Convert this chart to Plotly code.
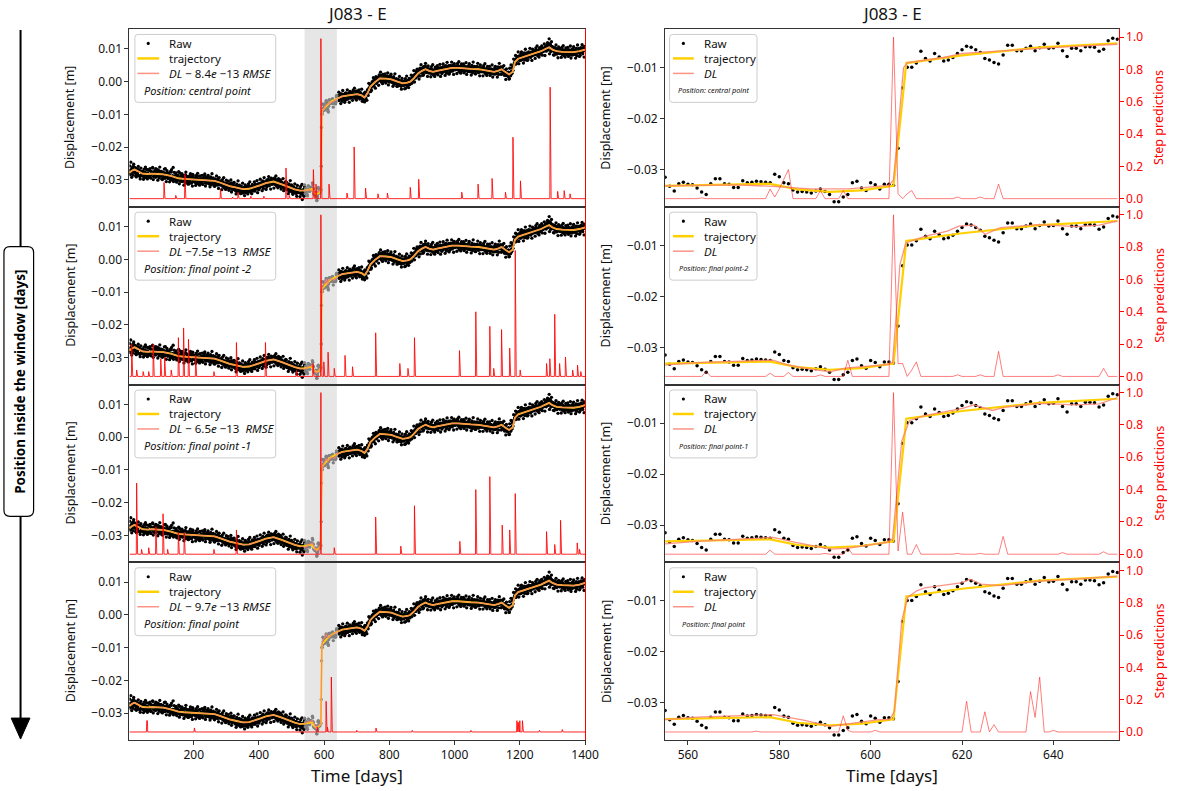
import plotly.graph_objects as go

W, H = 1192, 791

# ---------------- data (displacements in mm, converted to m when plotted) ----------------
# Left panels: full time series (left time axis), even/odd days
raw_a_days = list(range(3, 542, 2))
raw_a = [
    -27.1, -28.4, -24.6, -27.9, -26.3, -27.5, -25.9, -27.6, -26.2, -27.8,
    -26.5, -28.3, -27.0, -28.6, -26.9, -27.2, -29.0, -27.4, -28.7, -27.6,
    -27.3, -28.9, -28.0, -29.3, -27.6, -28.4, -26.8, -28.8, -27.9, -29.1,
    -28.5, -27.2, -28.6, -29.4, -27.7, -28.0, -26.4, -28.9, -27.5, -28.3,
    -29.2, -27.8, -28.4, -26.9, -28.7, -27.3, -29.0, -28.1, -27.4, -28.8,
    -27.6, -28.9, -29.5, -27.9, -28.4, -26.6, -29.1, -28.2, -27.8, -29.6,
    -28.1, -29.3, -28.6, -30.0, -27.6, -29.2, -28.8, -26.2, -29.7, -28.9,
    -29.8, -28.4, -30.3, -29.0, -28.6, -30.1, -29.3, -27.9, -30.4, -29.5,
    -28.9, -30.5, -29.4, -28.7, -30.2, -29.9, -28.5, -30.6, -29.1, -29.8,
    -30.7, -29.2, -28.8, -30.4, -29.6, -31.0, -29.0, -28.3, -30.3, -29.7,
    -29.4, -30.8, -30.1, -29.2, -31.1, -29.8, -30.5, -28.9, -30.2, -30.9,
    -29.6, -30.4, -31.2, -29.9, -30.0, -28.8, -30.7, -31.0, -29.5, -30.3,
    -30.9, -29.7, -30.4, -31.3, -29.4, -30.6, -30.0, -31.1, -29.8, -30.5,
    -31.0, -29.9, -30.6, -31.4, -30.2, -30.8, -29.6, -31.5, -30.9, -30.4,
    -31.6, -30.5, -31.2, -32.0, -30.8, -31.7, -31.1, -32.3, -31.0, -31.8,
    -32.4, -31.2, -31.9, -32.7, -31.5, -32.2, -30.9, -32.8, -32.0, -31.6,
    -32.9, -31.8, -32.5, -33.4, -32.0, -32.7, -31.9, -33.6, -32.4, -33.1,
    -32.3, -33.8, -32.6, -33.2, -34.0, -32.5, -33.5, -32.1, -33.9, -32.8,
    -33.4, -32.2, -33.6, -32.9, -31.9, -33.3, -32.6, -33.0, -31.8, -32.7,
    -31.7, -32.9, -32.2, -31.4, -32.6, -31.9, -32.8, -31.2, -32.1, -31.5,
    -32.4, -31.1, -31.8, -30.8, -32.0, -31.3, -30.6, -31.7, -30.9, -31.4,
    -30.2, -31.5, -30.7, -29.9, -31.2, -30.4, -31.0, -29.7, -30.9, -30.5,
    -29.8, -31.1, -30.3, -31.4, -30.6, -29.9, -31.5, -30.8, -31.7, -30.2,
    -31.6, -30.8, -32.0, -31.3, -30.7, -32.2, -31.5, -32.5, -31.2, -32.1,
    -32.7, -31.6, -32.3, -33.1, -32.0, -32.8, -31.7, -33.3, -32.4, -32.9,
    -33.5, -32.3, -33.0, -33.8, -32.6, -33.4, -34.1, -32.9, -33.6, -33.0,
    -33.9, -32.8, -33.5, -34.3, -33.1, -36.0, -33.7, -32.9, -34.4, -33.4,
]
raw_a2_days = list(range(4, 541, 2))
raw_a2 = [
    -25.7, -28.0, -26.9, -29.2, -26.2, -28.5, -25.2, -27.6, -26.5, -28.8,
    -29.1, -26.8, -27.9, -25.9, -28.7, -27.2, -29.7, -26.4, -28.3, -27.5,
    -27.5, -29.8, -26.7, -28.5, -26.1, -29.2, -28.0, -29.7, -26.9, -28.9,
    -28.6, -26.6, -29.4, -27.4, -28.2, -26.2, -29.9, -27.8, -29.0, -27.1,
    -26.6, -28.9, -27.8, -30.1, -27.1, -29.4, -26.1, -28.5, -27.4, -29.7,
    -29.9, -27.6, -28.7, -26.7, -29.5, -28.0, -30.5, -27.2, -29.1, -28.3,
    -28.3, -30.6, -27.5, -29.3, -26.9, -30.0, -28.8, -30.5, -27.7, -29.7,
    -29.9, -27.9, -30.7, -28.7, -29.5, -27.5, -31.2, -29.1, -30.3, -28.4,
    -28.1, -30.4, -29.3, -31.6, -28.6, -30.9, -27.6, -30.0, -28.9, -31.2,
    -31.3, -29.0, -30.1, -28.1, -30.9, -29.4, -31.9, -28.6, -30.5, -29.7,
    -29.4, -31.7, -28.6, -30.4, -28.0, -31.1, -29.9, -31.6, -28.8, -30.8,
    -30.6, -28.6, -31.4, -29.4, -30.2, -28.2, -31.9, -29.8, -31.0, -29.1,
    -28.6, -30.9, -29.8, -32.1, -29.1, -31.4, -28.1, -30.5, -29.4, -31.7,
    -32.0, -29.7, -30.8, -28.8, -31.6, -30.1, -32.6, -29.3, -31.2, -30.4,
    -30.7, -33.0, -29.9, -31.7, -29.3, -32.4, -31.2, -32.9, -30.1, -32.1,
    -32.4, -30.4, -33.2, -31.2, -32.0, -30.0, -33.7, -31.6, -32.8, -30.9,
    -30.8, -33.1, -32.0, -34.3, -31.3, -33.6, -30.3, -32.7, -31.6, -33.9,
    -34.2, -31.9, -33.0, -31.0, -33.8, -32.3, -34.8, -31.5, -33.4, -32.6,
    -32.0, -34.3, -31.2, -33.0, -30.6, -33.7, -32.5, -34.2, -31.4, -33.4,
    -32.6, -30.6, -33.4, -31.4, -32.2, -30.2, -33.9, -31.8, -33.0, -31.1,
    -29.8, -32.1, -31.0, -33.3, -30.3, -32.6, -29.3, -31.7, -30.6, -32.9,
    -32.2, -29.9, -31.0, -29.0, -31.8, -30.3, -32.8, -29.5, -31.4, -30.6,
    -30.2, -32.5, -29.4, -31.2, -28.8, -31.9, -30.7, -32.4, -29.6, -31.6,
    -32.0, -30.0, -32.8, -30.8, -31.6, -29.6, -33.3, -31.2, -32.4, -30.5,
    -30.7, -33.0, -31.9, -34.2, -31.2, -33.5, -30.2, -32.6, -31.5, -33.8,
    -34.4, -32.1, -33.2, -31.2, -34.0, -32.5, -35.0, -31.7, -33.6, -32.8,
    -32.8, -35.1, -32.0, -33.8, -31.4, -34.5, -33.3, -35.0, -32.2,
]
raw_c_days = list(range(644, 1401, 2))
raw_c = [
    -4.3, -5.8, -4.9, -3.7, -5.2, -4.6, -3.9, -5.5, -4.1, -4.8,
    -3.6, -4.9, -4.2, -5.3, -3.8, -4.5, -3.4, -4.7, -5.0, -3.9,
    -4.4, -3.3, -4.8, -3.7, -4.2, -2.9, -4.6, -3.5, -4.0, -3.2,
    -4.5, -3.4, -4.8, -3.9, -5.1, -4.3, -3.8, -5.4, -4.6, -5.8,
    -6.2, -4.1, -5.0, -3.6, -3.0, -2.6, -3.2, -1.8, -2.3, -0.9,
    -1.8, -0.6, -1.3, 0.2, -0.9, 0.4, -0.2, 1.1, -0.5, 0.8,
    0.1, 1.4, 0.5, 1.9, 0.3, 1.2, 0.7, 2.0, 0.6, 1.3,
    0.4, 1.6, 0.2, 1.1, 0.9, 1.8, 0.1, 1.3, 0.5, 1.0,
    1.4, 0.2, 0.9, -0.3, 1.1, 0.4, -0.5, 0.7, 0.0, 0.6,
    -0.8, 0.5, -0.2, -1.1, 0.3, -0.6, -1.4, 0.1, -0.9, -0.3,
    -1.2, 0.2, -0.8, -2.0, -0.1, -0.7, 0.4, -1.0, -0.2, 0.5,
    -0.5, 0.8, 0.3, 1.3, 0.6, 1.7, 1.0, 2.2, 1.5, 2.6,
    1.8, 2.9, 2.3, 3.5, 2.7, 4.1, 3.0, 3.8, 2.6, 3.6,
    4.5, 3.1, 3.9, 4.8, 3.4, 3.0, 4.2, 3.6, 2.7, 3.8,
    2.6, 3.9, 3.1, 2.5, 3.7, 2.9, 3.5, 2.2, 3.3, 4.0,
    3.0, 3.8, 2.7, 4.1, 3.4, 2.9, 4.3, 3.2, 3.9, 2.8,
    4.4, 3.3, 3.9, 4.7, 3.5, 4.2, 3.1, 4.6, 3.8, 4.9,
    3.6, 4.5, 4.0, 3.3, 4.8, 4.2, 5.1, 3.7, 4.4, 3.9,
    4.7, 3.8, 4.3, 5.0, 3.5, 4.1, 4.6, 3.6, 4.9, 4.0,
    3.4, 4.5, 3.9, 4.8, 3.2, 4.2, 3.7, 4.6, 3.3, 4.4,
    3.5, 4.3, 3.0, 4.1, 3.8, 4.7, 3.2, 4.0, 3.6, 4.4,
    3.1, 4.2, 3.7, 4.6, 3.3, 3.9, 2.9, 4.1, 3.5, 4.3,
    3.0, 3.9, 3.4, 4.2, 2.8, 3.6, 3.2, 4.0, 2.7, 3.5,
    3.9, 3.0, 3.6, 2.6, 3.4, 3.8, 2.5, 3.2, 2.8, 3.5,
    2.4, 3.4, 2.9, 3.9, 3.1, 4.0, 3.5, 4.3, 3.3, 4.1,
    3.6, 4.4, 3.1, 2.7, 3.5, 2.4, 3.0, 1.9, 2.8, 2.2,
    1.6, 2.7, 0.9, 2.3, 1.8, 3.1, 2.6, 3.4, 4.6, 5.2,
    5.9, 6.6, 5.4, 7.0, 6.3, 7.5, 6.8, 7.9, 7.1, 6.5,
    7.8, 6.9, 8.3, 7.4, 7.0, 8.1, 7.6, 8.6, 7.3, 8.0,
    7.5, 8.7, 8.1, 7.7, 9.0, 8.3, 8.8, 7.9, 9.2, 8.4,
    9.3, 8.2, 8.9, 9.6, 8.5, 9.1, 8.0, 9.8, 8.8, 9.4,
    9.9, 8.9, 9.6, 10.3, 9.2, 10.0, 9.5, 10.7, 9.8, 10.4,
    11.0, 10.1, 11.6, 13.1, 10.5, 11.2, 9.6, 10.8, 10.0, 9.4,
    10.3, 9.2, 9.9, 8.7, 10.1, 9.4, 8.8, 9.7, 9.0, 10.2,
    8.6, 9.5, 9.0, 8.3, 9.8, 8.9, 9.3, 8.5, 9.6, 8.7,
    9.4, 8.4, 9.7, 8.8, 9.2, 8.1, 9.5, 8.6, 9.9, 8.9,
    8.5, 9.6, 9.1, 8.3, 9.8, 9.0, 8.7, 9.5, 10.1, 9.2,
    8.8, 9.7, 9.3, 10.2, 9.0, 9.9, 10.6, 9.5, 10.3,
]
raw_c2_days = list(range(645, 1400, 2))
raw_c2 = [
    -3.2, -5.5, -4.4, -6.7, -3.7, -6.0, -2.7, -5.1, -4.0, -6.3,
    -5.7, -3.4, -4.5, -2.5, -5.3, -3.8, -6.3, -3.0, -4.9, -4.1,
    -3.4, -5.7, -2.6, -4.4, -2.0, -5.1, -3.9, -5.6, -2.8, -4.8,
    -4.5, -2.5, -5.3, -3.3, -4.3, -2.3, -6.0, -4.1, -5.3, -3.6,
    -3.2, -5.2, -3.8, -5.7, -2.4, -4.2, -0.5, -2.5, -1.0, -3.0,
    -2.6, -0.1, -1.0, 1.2, -1.4, 0.3, -2.0, 1.5, -0.2, 0.7,
    1.2, -1.1, 2.1, 0.4, 2.9, -0.1, 1.1, -0.6, 2.2, 0.1,
    0.4, 2.4, -0.4, 1.6, 0.8, 2.7, -1.0, 1.1, -0.1, 1.8,
    2.3, -0.1, 1.0, -1.4, 1.5, -0.8, 2.4, 0.0, 0.9, -1.4,
    -1.4, 0.8, -0.3, 1.6, -1.2, 0.2, -2.3, 1.0, -1.1, -0.3,
    0.1, -2.2, 0.9, -0.8, 1.7, -1.4, 0.0, -1.8, 1.0, -0.9,
    -0.4, 2.0, -0.5, 1.8, 1.2, 3.4, -0.1, 2.1, 1.1, 3.2,
    3.8, 1.6, 2.9, 0.8, 3.8, 1.7, 5.2, 2.9, 4.1, 1.9,
    2.2, 4.6, 3.6, 5.6, 2.8, 4.2, 1.6, 4.8, 2.8, 3.5,
    3.8, 1.5, 4.6, 2.8, 5.2, 2.1, 3.3, 1.6, 4.4, 2.4,
    2.9, 4.9, 2.1, 4.1, 3.3, 5.3, 1.6, 3.7, 2.5, 4.4,
    5.4, 3.1, 4.2, 1.9, 4.9, 2.6, 5.9, 3.5, 4.6, 2.3,
    2.8, 5.0, 4.0, 6.0, 3.2, 4.7, 2.2, 5.5, 3.6, 4.4,
    4.8, 2.5, 5.6, 3.8, 6.1, 3.0, 4.3, 2.6, 5.4, 3.3,
    3.5, 5.4, 2.7, 4.7, 3.9, 5.8, 2.2, 4.3, 3.1, 4.9,
    5.5, 3.2, 4.3, 2.0, 5.0, 2.7, 6.0, 3.6, 4.7, 2.4,
    2.4, 4.6, 3.6, 5.6, 2.8, 4.3, 1.8, 5.1, 3.2, 4.0,
    4.1, 1.8, 4.9, 3.1, 5.5, 2.4, 3.6, 1.9, 4.7, 2.7,
    2.7, 4.7, 1.9, 3.9, 3.1, 5.1, 1.4, 3.5, 2.3, 4.2,
    4.7, 2.4, 3.6, 1.4, 4.5, 2.2, 5.6, 3.3, 4.5, 2.2,
    2.4, 4.5, 3.1, 4.9, 1.9, 3.4, 0.7, 3.9, 1.9, 2.6,
    2.9, 0.8, 4.1, 2.5, 5.1, 2.4, 4.3, 3.4, 6.9, 5.4,
    5.7, 8.0, 5.5, 7.7, 7.0, 9.1, 5.5, 7.7, 6.5, 8.5,
    9.1, 6.8, 8.0, 5.7, 8.8, 6.6, 9.9, 7.6, 8.8, 6.5,
    6.7, 9.1, 8.1, 10.2, 7.4, 8.9, 6.5, 9.9, 8.1, 8.9,
    9.4, 7.1, 10.3, 8.6, 10.9, 7.9, 9.1, 7.5, 10.4, 8.4,
    8.8, 10.9, 8.1, 9.3, 9.5, 11.5, 8.0, 10.2, 9.3, 11.2,
    11.9, 9.7, 10.8, 8.5, 11.5, 9.2, 12.2, 9.8, 10.6, 8.2,
    8.1, 10.4, 9.2, 11.2, 8.4, 9.8, 7.3, 10.6, 8.6, 9.4,
    9.7, 7.4, 10.5, 8.7, 11.0, 8.0, 9.1, 7.5, 10.3, 8.3,
    8.5, 10.5, 7.7, 9.7, 8.9, 10.9, 7.2, 9.3, 8.1, 10.0,
    10.7, 8.4, 9.5, 7.2, 10.2, 7.9, 11.2, 8.8, 10.0, 7.7,
    8.1, 10.4, 9.3, 11.3, 8.5, 10.0, 7.5, 10.8,
]
traj_a_days = [3, 10, 19, 30, 43, 60, 72, 90, 107, 130, 153, 170, 188, 210, 235, 264, 280, 293, 310, 328,
               351, 370, 386, 405, 421, 445, 468, 491, 510, 526, 537]
traj_a = [-27.8, -27.2, -26.8, -27.5, -28.1, -28.2, -28.1, -28.2, -28.3, -28.8, -29.5, -29.7, -29.8, -30.0,
          -30.1, -30.3, -30.8, -31.3, -31.9, -32.3, -32.8, -32.7, -32.3, -31.6, -31.0, -30.5, -31.3, -32.3,
          -32.9, -33.3, -33.4]
traj_c_days = [644, 655, 680, 701, 715, 724, 733, 742, 755, 771, 790, 806, 825, 841, 855, 864, 875, 888, 900,
               911, 922, 934, 946, 958, 975, 992, 1010, 1027, 1050, 1074, 1100, 1121, 1135, 1144, 1155, 1167,
               1178, 1185, 1195, 1214, 1230, 1249, 1265, 1277, 1290, 1300, 1313, 1330, 1348, 1365, 1383, 1400]
traj_c = [-5.0, -4.5, -4.1, -3.8, -4.2, -4.8, -3.5, -1.5, -0.2, 1.0, 0.9, 0.7, 0.0, -0.5, -0.3, 0.0, 1.0, 2.5,
          3.3, 3.8, 3.3, 3.0, 3.3, 3.5, 3.9, 4.2, 4.2, 4.0, 3.9, 3.8, 3.4, 3.0, 3.4, 3.8, 3.0, 2.2, 3.0, 6.0,
          7.0, 7.6, 8.2, 8.9, 9.3, 9.9, 10.5, 9.8, 9.3, 9.1, 9.0, 9.0, 9.3, 9.8]

# Window (right panels), days on the right time axis
win_days = list(range(555, 655))
win_shift = 15  # window position on the left time axis = day - win_shift
win_raw = [
    -31.5, -33.3, -34.2, -32.8, -32.5, -32.9, -33.0, -33.6, -34.4, -34.9,
    -32.8, -31.8, -31.8, -32.8, -32.9, -33.5, -33.5, -32.2, -32.6, -32.5,
    -32.3, -32.4, -32.5, -32.6, -30.9, -31.4, -32.6, -32.8, -34.0, -34.4,
    -34.3, -34.4, -34.6, -34.2, -33.8, -34.3, -34.9, -36.3, -36.3, -35.4,
    -34.9, -32.6, -32.3, -33.6, -34.1, -32.6, -33.0, -33.8, -32.9, -32.9,
    -33.1, -25.8, -14.0, -9.9, -9.9, -9.1, -6.8, -8.2, -8.7, -7.2,
    -7.9, -8.7, -8.5, -8.0, -7.2, -6.5, -5.8, -6.0, -6.5, -7.0,
    -8.2, -8.5, -9.0, -9.3, -7.5, -5.6, -5.6, -6.7, -6.7, -6.2,
    -5.8, -6.7, -6.1, -5.4, -6.2, -6.1, -5.2, -6.7, -7.8, -6.2,
    -6.2, -6.7, -5.9, -5.9, -6.0, -6.8, -6.4, -4.7, -4.2, -4.4,
]
traj_win_days = [555, 578, 584, 591, 598, 605, 607.8, 620, 637, 654]
traj_win = [-33.2, -32.8, -33.9, -34.4, -34.1, -33.2, -9.1, -7.6, -6.0, -5.2]

dl_win_days = [
    [555, 570.3, 578.6, 586.9, 595.2, 603.9, 605, 607.2, 608.1, 616, 620.1, 628.4, 640.8, 654],
    [555, 562, 578.6, 582, 586.9, 591.1, 594.4, 603.5, 604.8, 606.4, 607.7, 611.8, 616.8, 619.3, 622.6,
     625.1, 628.4, 636.7, 645, 650, 654],
    [555, 562, 578.6, 583.6, 591.1, 595.2, 603.5, 604.8, 606.8, 608.5, 611.8, 620.1, 622.6, 626.7, 629.2,
     636.7, 645, 650, 654],
    [555, 562, 578.6, 585.3, 591.1, 595.2, 601.8, 604.2, 605.2, 606.8, 608.1, 610.1, 611.8, 620.1, 621.7,
     624.2, 628.4, 636.7, 645, 654],
]
dl_win = [
    [-33.2, -33.0, -33.3, -33.8, -33.8, -33.1, -32.1, -10.0, -9.0, -8.0, -7.2, -6.7, -6.0, -5.4],
    [-33.5, -33.0, -32.5, -33.5, -34.3, -34.8, -34.1, -33.4, -33.0, -13.8, -9.5, -8.2, -7.2, -6.2, -6.0,
     -7.8, -6.5, -5.9, -6.3, -6.0, -5.2],
    [-33.7, -33.2, -32.4, -33.4, -34.7, -34.5, -33.4, -32.7, -13.5, -9.5, -8.5, -7.1, -6.4, -7.5, -6.9,
     -6.1, -6.4, -6.2, -5.0],
    [-33.3, -32.8, -32.3, -33.4, -34.6, -34.1, -33.3, -33.3, -31.6, -13.9, -9.3, -8.0, -7.4, -6.4, -5.7,
     -6.7, -7.0, -6.1, -5.7, -5.1],
]

# Step predictions, left panels (left time axis), non-zero days only
step_left_days = [
    [109, 145, 173, 282, 319, 336, 375, 415, 483, 493, 567, 575, 590, 615, 670, 692, 727, 765, 794, 864, 890,
     1022, 1072, 1115, 1156, 1179, 1202, 1293, 1316, 1336, 1354],
    [10, 25, 45, 62, 76, 99, 111, 131, 153, 169, 184, 206, 262, 331, 420, 515, 566, 590, 599, 612, 631, 664,
     687, 758, 832, 857, 877, 1015, 1065, 1108, 1120, 1144, 1169, 1186, 1201, 1282, 1292, 1307, 1322, 1340,
     1362, 1377, 1387],
    [25, 40, 62, 84, 106, 120, 153, 171, 262, 331, 589, 590, 631, 758, 835, 877, 1016, 1065, 1108, 1146,
     1169, 1186, 1282, 1307, 1325, 1376, 1383],
    [56, 57, 58, 202, 579, 606, 610, 622, 700, 759, 870, 1050, 1191, 1195, 1200, 1208, 1260, 1330],
]
step_left_vals = [
    [0.10, 0.02, 0.15, 0.06, 0.01, 0.04, 0.015, 0.015, 0.19, 0.02, 0.18, 0.09, 0.99, 0.09, 0.035, 0.32,
     0.065, 0.03, 0.035, 0.07, 0.12, 0.04, 0.09, 0.125, 0.04, 0.38, 0.11, 0.69, 0.045, 0.05, 0.03],
    [0.2, 0.04, 0.03, 0.03, 0.2, 0.11, 0.12, 0.04, 0.24, 0.30, 0.23, 0.13, 0.03, 0.21, 0.21, 0.04, 0.08,
     1.0, 0.09, 0.15, 0.05, 0.13, 0.06, 0.27, 0.08, 0.05, 0.24, 0.16, 0.40, 0.31, 0.05, 0.29, 0.175, 0.78,
     0.04, 0.08, 0.11, 0.385, 0.08, 0.12, 0.04, 0.07, 0.03],
    [0.44, 0.03, 0.04, 0.17, 0.25, 0.03, 0.135, 0.135, 0.03, 0.15, 0.27, 1.0, 0.04, 0.23, 0.05, 0.30, 0.08,
     0.40, 0.48, 0.18, 0.15, 0.375, 0.14, 0.06, 0.21, 0.07, 0.03],
    [0.07, 0.07, 0.07, 0.025, 0.03, 0.19, 0.03, 0.34, 0.01, 0.025, 0.01, 0.01, 0.07, 0.06, 0.07, 0.07, 0.01,
     0.015],
]
# Step predictions, right panels (window days), non-zero days only
step_win_days = [
    [563, 578, 579, 580, 581, 582, 589, 594, 605, 606, 608, 609, 619, 624, 628],
    [564, 578, 582, 589, 595, 605, 606, 607, 609, 610, 619, 624, 628, 641, 651],
    [578, 590, 595, 605, 606, 607, 610, 619, 624, 629, 642, 651],
    [575, 594, 595, 601, 621, 625, 627, 635, 636, 637, 640],
]
step_win_vals = [
    [0.005, 0.06, 0.01, 0.06, 0.12, 0.18, 0.05, 0.05, 1.0, 0.03, 0.03, 0.05, 0.01, 0.01, 0.09],
    [0.03, 0.02, 0.025, 0.01, 0.10, 1.0, 0.08, 0.08, 0.04, 0.09, 0.01, 0.01, 0.155, 0.01, 0.05],
    [0.025, 0.005, 0.04, 1.0, 0.02, 0.26, 0.06, 0.005, 0.005, 0.11, 0.01, 0.015],
    [0.005, 0.10, 0.01, 0.01, 0.19, 0.125, 0.045, 0.25, 0.09, 0.34, 0.01],
]

dl_labels = ["<i>DL</i> − 8.4<i>e</i> −13 <i>RMSE</i>", "<i>DL</i> −7.5<i>e</i> −13  <i>RMSE</i>",
             "<i>DL</i> − 6.5<i>e</i> −13  <i>RMSE</i>", "<i>DL</i> − 9.7<i>e</i> −13 <i>RMSE</i>"]
pos_left = ["Position: central point", "Position: final point -2", "Position: final point -1",
            "Position: final point"]
pos_right = ["Position: central point", "Position: final point-2", "Position: final point-1",
             "Position: final point"]
left_ticks = [0.01, 0.0, -0.01, -0.02, -0.03]
right_ticks = [-0.01, -0.02, -0.03]
step_ticks = [0.0, 0.2, 0.4, 0.6, 0.8, 1.0]
left_xticks = [200, 400, 600, 800, 1000, 1200, 1400]
right_xticks = [560, 580, 600, 620, 640]

# ---------------- styling / layout ----------------
FONT = "Noto Sans"
C_RAW = "black"
C_GRAY = "#808080"
C_TRAJ = "#FFD000"
C_DL = "rgba(250,128,114,0.85)"
C_STEP_L = "rgba(255,0,0,0.85)"
C_STEP_R = "rgba(255,40,40,0.6)"
AX = "#333333"

tops = [28, 206, 384, 562]
bots = [206, 384, 562, 740]
xl = (131, 592)
xr = (673, 1132)


def X(px):
    return px / W


def Y(py):
    return 1 - py / H


def mm(v):
    return [a / 1000.0 for a in v]


def ref(p, k):
    return p if k == 1 else f"{p}{k}"


fig = go.Figure()
layout = dict(width=W, height=H, margin=dict(l=0, r=0, t=0, b=0), autosize=False,
              paper_bgcolor="white", plot_bgcolor="white", showlegend=False,
              font=dict(family=FONT, size=12, color="#111"))
shapes = []
annotations = []

left_days_full = list(range(3, 1401))
win_days_left = [d - win_shift for d in win_days]
left_raw_days = raw_a_days + raw_a2_days + raw_c_days + raw_c2_days
left_raw_vals = raw_a + raw_a2 + raw_c + raw_c2

for r in range(4):
    for c in range(2):
        k = 2 * r + c + 1
        ks = k + 8
        xa, ya, ya2 = ref("x", k), ref("y", k), ref("y", ks)
        dom_x = [X(xl[0]), X(xl[1])] if c == 0 else [X(xr[0]), X(xr[1])]
        dom_y = [Y(bots[r]), Y(tops[r])]
        last = (r == 3)
        xaxis = dict(domain=dom_x, anchor=ya, showgrid=False, zeroline=False, showline=True, linecolor=AX,
                     linewidth=1, mirror=True, tickfont=dict(size=12, family=FONT, color="#111"))
        if c == 0:
            xaxis.update(range=[3, 1400])
        else:
            xaxis.update(range=[555, 654.3])
        if last:
            xaxis.update(ticks="outside", ticklen=4, tickcolor=AX, tickvals=left_xticks if c == 0 else right_xticks,
                         showticklabels=True)
        else:
            xaxis.update(ticks="", showticklabels=False)
        yaxis = dict(domain=dom_y, anchor=xa, showgrid=False, zeroline=False, showline=True, linecolor=AX,
                     linewidth=1, ticks="outside", ticklen=4, tickcolor=AX, tickformat=".2f",
                     tickfont=dict(size=12, family=FONT, color="#111"))
        if c == 0:
            yaxis.update(range=[-0.0382, 0.0161], tickvals=left_ticks)
        else:
            yaxis.update(range=[-0.0373, -0.0024], tickvals=right_ticks)
        yaxis2 = dict(overlaying=ya, anchor=xa, side="right", range=[-0.05, 1.05], showgrid=False,
                      zeroline=False, showline=True, linecolor="red", linewidth=1)
        if c == 0:
            yaxis2.update(ticks="", showticklabels=False)
        else:
            yaxis2.update(ticks="outside", ticklen=4, tickcolor="red", tickvals=step_ticks, tickformat=".1f",
                          tickfont=dict(size=12, family=FONT, color="red"))
        layout[ref("xaxis", k)] = xaxis
        layout[ref("yaxis", k)] = yaxis
        layout[ref("yaxis", ks)] = yaxis2

        if c == 0:
            shapes.append(dict(type="rect", xref=xa, yref=ya + " domain", x0=win_days_left[0],
                               x1=win_days_left[-1], y0=0, y1=1, fillcolor="#e6e6e6", line=dict(width=0),
                               layer="below"))
            fig.add_trace(go.Scatter(x=left_raw_days, y=mm(left_raw_vals), mode="markers",
                                     marker=dict(size=3.3, color=C_RAW), xaxis=xa, yaxis=ya))
            fig.add_trace(go.Scatter(x=win_days_left, y=mm(win_raw), mode="markers",
                                     marker=dict(size=3.3, color=C_GRAY), xaxis=xa, yaxis=ya))
            tdays = traj_a_days + [d - win_shift for d in traj_win_days] + traj_c_days
            tvals = traj_a + traj_win + traj_c
            fig.add_trace(go.Scatter(x=tdays, y=mm(tvals), mode="lines", line=dict(color=C_TRAJ, width=1.8),
                                     xaxis=xa, yaxis=ya))
            ddays = traj_a_days + [d - win_shift for d in dl_win_days[r]] + traj_c_days
            dvals = traj_a + dl_win[r] + traj_c
            fig.add_trace(go.Scatter(x=ddays, y=mm(dvals), mode="lines", line=dict(color=C_DL, width=1.2),
                                     xaxis=xa, yaxis=ya))
            sv = dict(zip(step_left_days[r], step_left_vals[r]))
            fig.add_trace(go.Scatter(x=left_days_full, y=[sv.get(d, 0.0) for d in left_days_full], mode="lines",
                                     line=dict(color=C_STEP_L, width=1), xaxis=xa, yaxis=ya2))
        else:
            fig.add_trace(go.Scatter(x=win_days, y=mm(win_raw), mode="markers",
                                     marker=dict(size=3.5, color=C_RAW), xaxis=xa, yaxis=ya))
            fig.add_trace(go.Scatter(x=traj_win_days, y=mm(traj_win), mode="lines",
                                     line=dict(color=C_TRAJ, width=2.2), xaxis=xa, yaxis=ya))
            fig.add_trace(go.Scatter(x=dl_win_days[r], y=mm(dl_win[r]), mode="lines",
                                     line=dict(color=C_DL, width=1.3), xaxis=xa, yaxis=ya))
            sv = dict(zip(step_win_days[r], step_win_vals[r]))
            fig.add_trace(go.Scatter(x=win_days, y=[sv.get(d, 0.0) for d in win_days], mode="lines",
                                     line=dict(color=C_STEP_R, width=1), xaxis=xa, yaxis=ya2))


def rounded_rect(x0, y0, x1, y1, rad):
    return (f"M {X(x0 + rad)},{Y(y0)} L {X(x1 - rad)},{Y(y0)} Q {X(x1)},{Y(y0)} {X(x1)},{Y(y0 + rad)} "
            f"L {X(x1)},{Y(y1 - rad)} Q {X(x1)},{Y(y1)} {X(x1 - rad)},{Y(y1)} "
            f"L {X(x0 + rad)},{Y(y1)} Q {X(x0)},{Y(y1)} {X(x0)},{Y(y1 - rad)} "
            f"L {X(x0)},{Y(y0 + rad)} Q {X(x0)},{Y(y0)} {X(x0 + rad)},{Y(y0)} Z")


for r in range(4):
    T = tops[r]
    for c in range(2):
        if c == 0:
            bx0, bx1, sx0, sx1, tx = 136.5, 279.0, 139.0, 161.0, 169.0
            px_, pa, ps, ptxt, dlt = 143.5, "left", 11, pos_left[r], dl_labels[r]
        else:
            bx0, bx1, sx0, sx1, tx = 677.5, 766.0, 681.0, 702.0, 710.0
            px_, pa, ps, ptxt, dlt = 721.5, "center", 7.3, pos_right[r], "<i>DL</i>"
        shapes.append(dict(type="path", xref="paper", yref="paper",
                           path=rounded_rect(bx0, T + 5.5, bx1, T + 73.5, 3),
                           fillcolor="rgba(255,255,255,0.85)", line=dict(color="#cccccc", width=1)))
        cx = (sx0 + sx1) / 2
        shapes.append(dict(type="circle", xref="paper", yref="paper", x0=X(cx - 1.6), x1=X(cx + 1.6),
                           y0=Y(T + 14.5 + 1.6), y1=Y(T + 14.5 - 1.6), fillcolor="black", line=dict(width=0)))
        shapes.append(dict(type="line", xref="paper", yref="paper", x0=X(sx0), x1=X(sx1), y0=Y(T + 29.5),
                           y1=Y(T + 29.5), line=dict(color=C_TRAJ, width=2.5)))
        shapes.append(dict(type="line", xref="paper", yref="paper", x0=X(sx0), x1=X(sx1), y0=Y(T + 44.5),
                           y1=Y(T + 44.5), line=dict(color=C_DL, width=1.5)))
        for txt, yy in (("Raw", T + 14.5), ("trajectory", T + 29.5), (dlt, T + 44.5)):
            annotations.append(dict(text=txt, x=X(tx), y=Y(yy), xref="paper", yref="paper", xanchor="left",
                                    yanchor="middle", showarrow=False,
                                    font=dict(size=11.5, family=FONT, color="#111")))
        annotations.append(dict(text=f"<i>{ptxt}</i>", x=X(px_), y=Y(T + 61.5), xref="paper", yref="paper",
                                xanchor=pa, yanchor="middle", showarrow=False,
                                font=dict(size=ps, family=FONT, color="#111")))
    yc = (tops[r] + bots[r]) / 2
    for xx in (71, 613):
        annotations.append(dict(text="Displacement [m]", x=X(xx), y=Y(yc), xref="paper", yref="paper",
                                textangle=-90, showarrow=False, xanchor="center", yanchor="middle",
                                font=dict(size=12.5, family=FONT, color="#111")))
    annotations.append(dict(text="Step predictions", x=X(1173), y=Y(yc), xref="paper", yref="paper",
                            textangle=-90, showarrow=False, xanchor="center", yanchor="middle",
                            font=dict(size=12.5, family=FONT, color="red")))

for cx in ((xl[0] + xl[1]) / 2, (xr[0] + xr[1]) / 2):
    annotations.append(dict(text="J083 - E", x=X(cx), y=Y(13), xref="paper", yref="paper", showarrow=False,
                            xanchor="center", yanchor="middle", font=dict(size=17, family=FONT, color="#111")))
    annotations.append(dict(text="Time [days]", x=X(cx), y=Y(775), xref="paper", yref="paper", showarrow=False,
                            xanchor="center", yanchor="middle", font=dict(size=17, family=FONT, color="#111")))

# big arrow on the left
shapes.append(dict(type="line", xref="paper", yref="paper", x0=X(20.8), x1=X(20.8), y0=Y(29), y1=Y(722),
                   line=dict(color="black", width=2)))
shapes.append(dict(type="path", xref="paper", yref="paper",
                   path=f"M {X(11.3)},{Y(718)} L {X(30.3)},{Y(718)} L {X(20.8)},{Y(739)} Z",
                   fillcolor="black", line=dict(color="black", width=1)))
shapes.append(dict(type="path", xref="paper", yref="paper", path=rounded_rect(4, 246, 34, 516, 6),
                   fillcolor="white", line=dict(color="black", width=1.2)))
annotations.append(dict(text="<b>Position inside the window [days]</b>", x=X(19.5), y=Y(381), xref="paper",
                        yref="paper", textangle=-90, showarrow=False, xanchor="center", yanchor="middle",
                        font=dict(size=13.5, family=FONT, color="black")))

layout["shapes"] = shapes
layout["annotations"] = annotations
fig.update_layout(**layout)
fig.write_html("out.html")
